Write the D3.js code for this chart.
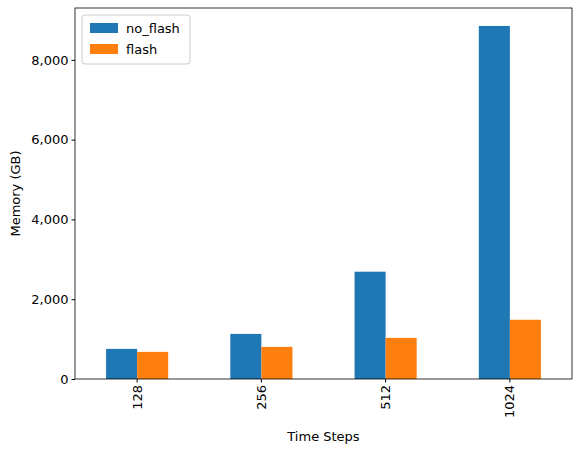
<html>
<head>
<script src="https://d3js.org/d3.v7.min.js"></script>
<style>
  body { margin: 0; background: #fff; }
  text { font-family: "DejaVu Sans", sans-serif; }
</style>
</head>
<body>
<svg width="580" height="454"></svg>
<script>
  let categories = ["128", "256", "512", "1024"];
  let seriesNames = ["no_flash", "flash"];
  let noFlash = [755, 1130, 2690, 8850];
  let flash = [680, 805, 1030, 1485];
  let yTicks = [0, 2000, 4000, 6000, 8000];
  let colors = ["#1f77b4", "#ff7f0e"];

  let svg = d3.select("svg"),
      mLeft = 75, mRight = 572, mTop = 8, mBottom = 379;

  let x = d3.scaleBand().domain(categories).range([mLeft, mRight]).paddingInner(0.5).paddingOuter(0.25);
  let y = d3.scaleLinear().domain([0, 9300]).range([mBottom, mTop]);
  let inner = d3.scaleBand().domain(seriesNames).range([0, x.bandwidth()]);

  let values = [noFlash, flash];
  seriesNames.forEach((s, si) => {
    svg.append("g").selectAll("rect")
      .data(values[si])
      .enter().append("rect")
      .attr("x", (d, i) => x(categories[i]) + inner(s))
      .attr("width", inner.bandwidth())
      .attr("y", d => y(d))
      .attr("height", d => mBottom - y(d))
      .attr("fill", colors[si]);
  });

  let xa = svg.append("g").attr("transform", "translate(0," + mBottom + ")")
    .call(d3.axisBottom(x).tickSizeOuter(0).tickSize(3.5));
  xa.selectAll("text").attr("transform", "rotate(-90)").attr("x", -6).attr("y", 0)
    .attr("dy", "0.35em").style("text-anchor", "end").style("font-size", "13px").attr("fill", "#000");
  xa.select(".domain").remove();

  let ya = svg.append("g").attr("transform", "translate(" + mLeft + ",0)")
    .call(d3.axisLeft(y).tickValues(yTicks).tickSizeOuter(0).tickSize(3.5));
  ya.selectAll("text").style("font-size", "13px").attr("fill", "#000");
  ya.select(".domain").remove();

  svg.append("rect").attr("x", mLeft).attr("y", mTop).attr("width", mRight - mLeft).attr("height", mBottom - mTop)
    .attr("fill", "none").attr("stroke", "#000").attr("stroke-width", 0.8);

  svg.append("text").attr("x", (mLeft + mRight) / 2).attr("y", 441).attr("text-anchor", "middle")
    .style("font-size", "13px").text("Time Steps");
  svg.append("text").attr("transform", "translate(20," + (mTop + mBottom) / 2 + ") rotate(-90)")
    .attr("text-anchor", "middle").style("font-size", "13px").text("Memory (GB)");

  let lg = svg.append("g").attr("transform", "translate(82,15)");
  lg.append("rect").attr("width", 108).attr("height", 49).attr("rx", 3)
    .attr("fill", "#fff").attr("stroke", "#ccc");
  seriesNames.forEach((s, i) => {
    lg.append("rect").attr("x", 8).attr("y", 8 + i * 21).attr("width", 28).attr("height", 10).attr("fill", colors[i]);
    lg.append("text").attr("x", 44).attr("y", 13 + i * 21).attr("dy", "0.35em")
      .style("font-size", "13px").text(s);
  });
</script>
</body>
</html>
